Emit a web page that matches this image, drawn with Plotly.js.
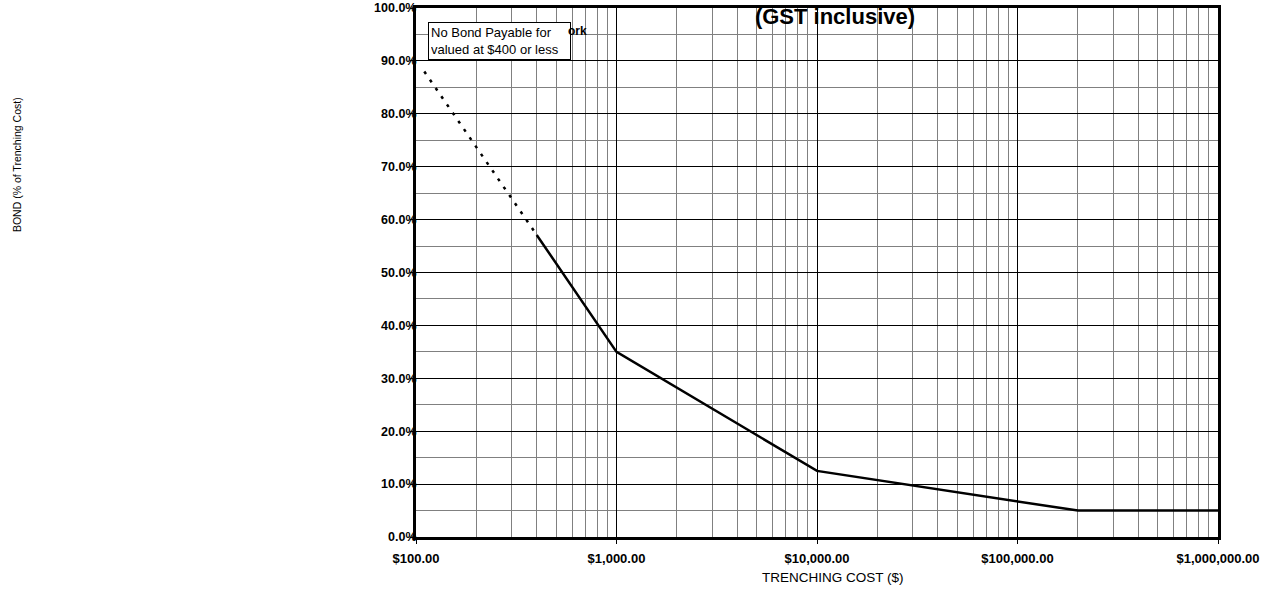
<!DOCTYPE html>
<html>
<head>
<meta charset="utf-8">
<script src="https://cdn.plot.ly/plotly-3.0.1.min.js"></script>
<style>html,body{margin:0;padding:0;background:#fff;}#chart{width:1268px;height:591px;}</style>
</head>
<body>
<div id="chart"></div>
<script>
// Data
var costSolid = [400, 1000, 10000, 200000, 1000000];
var bondSolid = [0.571, 0.35, 0.125, 0.05, 0.05];
var costDotted = [110, 400];
var bondDotted = [0.88, 0.571];

var titleText = "(GST inclusive)";
var xTitle = "TRENCHING COST ($)";
var yTitle = "BOND (% of Trenching Cost)";
var noteText = "No Bond Payable for<br>valued at $400 or less";
var noteFragment = "ork";

var FONT = "Liberation Sans, Arial, sans-serif";

var traces = [
  {x: costDotted, y: bondDotted, type: "scatter", mode: "lines",
   line: {color: "#000", width: 2.5, dash: "3px,7px"}, hoverinfo: "skip", showlegend: false},
  {x: costSolid, y: bondSolid, type: "scatter", mode: "lines",
   line: {color: "#000", width: 2.5}, showlegend: false}
];

var layout = {
  width: 1268, height: 591,
  margin: {l: 416, r: 50, t: 8, b: 54, pad: 0},
  paper_bgcolor: "#fff", plot_bgcolor: "#fff",
  font: {family: FONT, color: "#000"},
  showlegend: false,
  title: {text: "<b>" + titleText + "</b>", font: {family: FONT, size: 22, color: "#000"},
          x: 0.6585, xref: "container", xanchor: "center", y: 0.973, yref: "container", yanchor: "middle"},
  xaxis: {
    type: "log", range: [2, 6], dtick: 1,
    tickprefix: "$", tickformat: ",.2f",
    tickfont: {family: FONT, size: 13, color: "#000", weight: "bold"},
    ticks: "outside", ticklen: 4, tickwidth: 1, tickcolor: "#000",
    ticklabelstandoff: 3,
    showgrid: true, gridcolor: "#000", gridwidth: 1,
    minor: {dtick: "D1", showgrid: true, gridcolor: "#808080", gridwidth: 1, ticks: ""},
    showline: true, linecolor: "#000", linewidth: 3, mirror: true,
    zeroline: false, automargin: false
  },
  yaxis: {
    range: [0, 1], dtick: 0.1, tickformat: ".1%",
    tickfont: {family: FONT, size: 12.5, color: "#000", weight: "bold"},
    ticks: "outside", ticklen: 3, tickwidth: 1, tickcolor: "#000",
    ticklabelstandoff: -9,
    showgrid: true, gridcolor: "#000", gridwidth: 1,
    minor: {dtick: 0.05, showgrid: true, gridcolor: "#808080", gridwidth: 1, ticks: ""},
    showline: true, linecolor: "#000", linewidth: 3, mirror: true,
    zeroline: false, automargin: false
  },
  annotations: [
    {text: noteText, xref: "paper", yref: "paper", x: 0.015, y: 0.9735,
     xanchor: "left", yanchor: "top", align: "left", showarrow: false,
     width: 137, bgcolor: "#fff", bordercolor: "#000", borderwidth: 1, borderpad: 2,
     font: {family: FONT, size: 13, color: "#000"}},
    {text: "<b>" + noteFragment + "</b>", xref: "paper", yref: "paper", x: 0.1865, y: 0.9565,
     xanchor: "left", yanchor: "middle", showarrow: false,
     font: {family: FONT, size: 12, color: "#000"}},
    {text: xTitle, xref: "paper", yref: "paper", x: 0.52, y: -0.0775,
     xanchor: "center", yanchor: "middle", showarrow: false,
     font: {family: FONT, size: 13.5, color: "#000"}},
    {text: yTitle, xref: "paper", yref: "paper", x: -0.4975, y: 0.703,
     xanchor: "center", yanchor: "middle", showarrow: false, textangle: -90,
     font: {family: FONT, size: 10.5, color: "#000"}}
  ]
};

Plotly.newPlot("chart", traces, layout, {displayModeBar: false, staticPlot: true});
</script>
</body>
</html>
